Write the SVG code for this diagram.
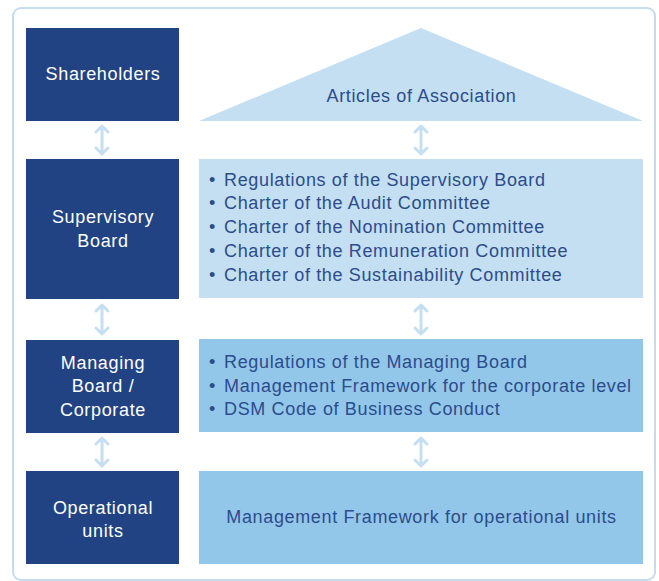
<svg xmlns="http://www.w3.org/2000/svg" width="659" height="581" viewBox="0 0 659 581">
<defs>
<style>
.dark{fill:#224383}
.lt1{fill:#c4dff1}
.lt2{fill:#93c7e9}
.wt{font-family:"Liberation Sans",Arial,sans-serif;font-size:18px;letter-spacing:0.65px;fill:#ffffff;text-anchor:middle}
.bt{font-family:"Liberation Sans",Arial,sans-serif;font-size:18px;letter-spacing:0.65px;fill:#2c4c8c}
.mid{text-anchor:middle}
.arr{fill:none;stroke:#c5dff1;stroke-width:3;stroke-linecap:round;stroke-linejoin:round}
</style>
</defs>
<rect x="13" y="8" width="642" height="572" rx="8" fill="#ffffff" stroke="#c5dcef" stroke-width="2"/>
<g id="shareholders"><rect class="dark" x="26" y="28" width="153" height="93"/><text class="wt" x="103" y="80">Shareholders</text></g>
<g id="supervisory-board"><rect class="dark" x="26" y="159" width="153" height="140"/><text class="wt" x="103" y="223">Supervisory</text><text class="wt" x="103" y="247">Board</text></g>
<g id="managing-board"><rect class="dark" x="26" y="340" width="153" height="93"/><text class="wt" x="103" y="369">Managing</text><text class="wt" x="103" y="392">Board /</text><text class="wt" x="103" y="416">Corporate</text></g>
<g id="operational-units"><rect class="dark" x="26" y="471" width="153" height="93"/><text class="wt" x="103" y="514">Operational</text><text class="wt" x="103" y="537">units</text></g>
<g id="articles"><polygon class="lt1" points="199,121 421,28 643,121"/><text class="bt mid" x="421.5" y="102">Articles of Association</text></g>
<g id="supervisory-docs"><rect class="lt1" x="199" y="159" width="444" height="139"/>
<text class="bt" x="209" y="186">•</text><text class="bt" x="224" y="186">Regulations of the Supervisory Board</text>
<text class="bt" x="209" y="209">•</text><text class="bt" x="224" y="209">Charter of the Audit Committee</text>
<text class="bt" x="209" y="233">•</text><text class="bt" x="224" y="233">Charter of the Nomination Committee</text>
<text class="bt" x="209" y="257">•</text><text class="bt" x="224" y="257">Charter of the Remuneration Committee</text>
<text class="bt" x="209" y="281">•</text><text class="bt" x="224" y="281">Charter of the Sustainability Committee</text>
</g>
<g id="managing-docs"><rect class="lt2" x="199" y="339" width="444" height="93"/>
<text class="bt" x="209" y="368">•</text><text class="bt" x="224" y="368">Regulations of the Managing Board</text>
<text class="bt" x="209" y="392">•</text><text class="bt" x="224" y="392">Management Framework for the corporate level</text>
<text class="bt" x="209" y="415">•</text><text class="bt" x="224" y="415">DSM Code of Business Conduct</text>
</g>
<g id="operational-docs"><rect class="lt2" x="199" y="471" width="444" height="93"/><text class="bt mid" x="421.5" y="523">Management Framework for operational units</text></g>
<g id="connectors">
<path class="arr" d="M102,126V154M96,132L102,126L108,132M96,148L102,154L108,148"/>
<path class="arr" d="M421,126V154M415,132L421,126L427,132M415,148L421,154L427,148"/>
<path class="arr" d="M102,305V334M96,311L102,305L108,311M96,328L102,334L108,328"/>
<path class="arr" d="M421,305V334M415,311L421,305L427,311M415,328L421,334L427,328"/>
<path class="arr" d="M102,438V466M96,444L102,438L108,444M96,460L102,466L108,460"/>
<path class="arr" d="M421,438V466M415,444L421,438L427,444M415,460L421,466L427,460"/>
</g>
</svg>
